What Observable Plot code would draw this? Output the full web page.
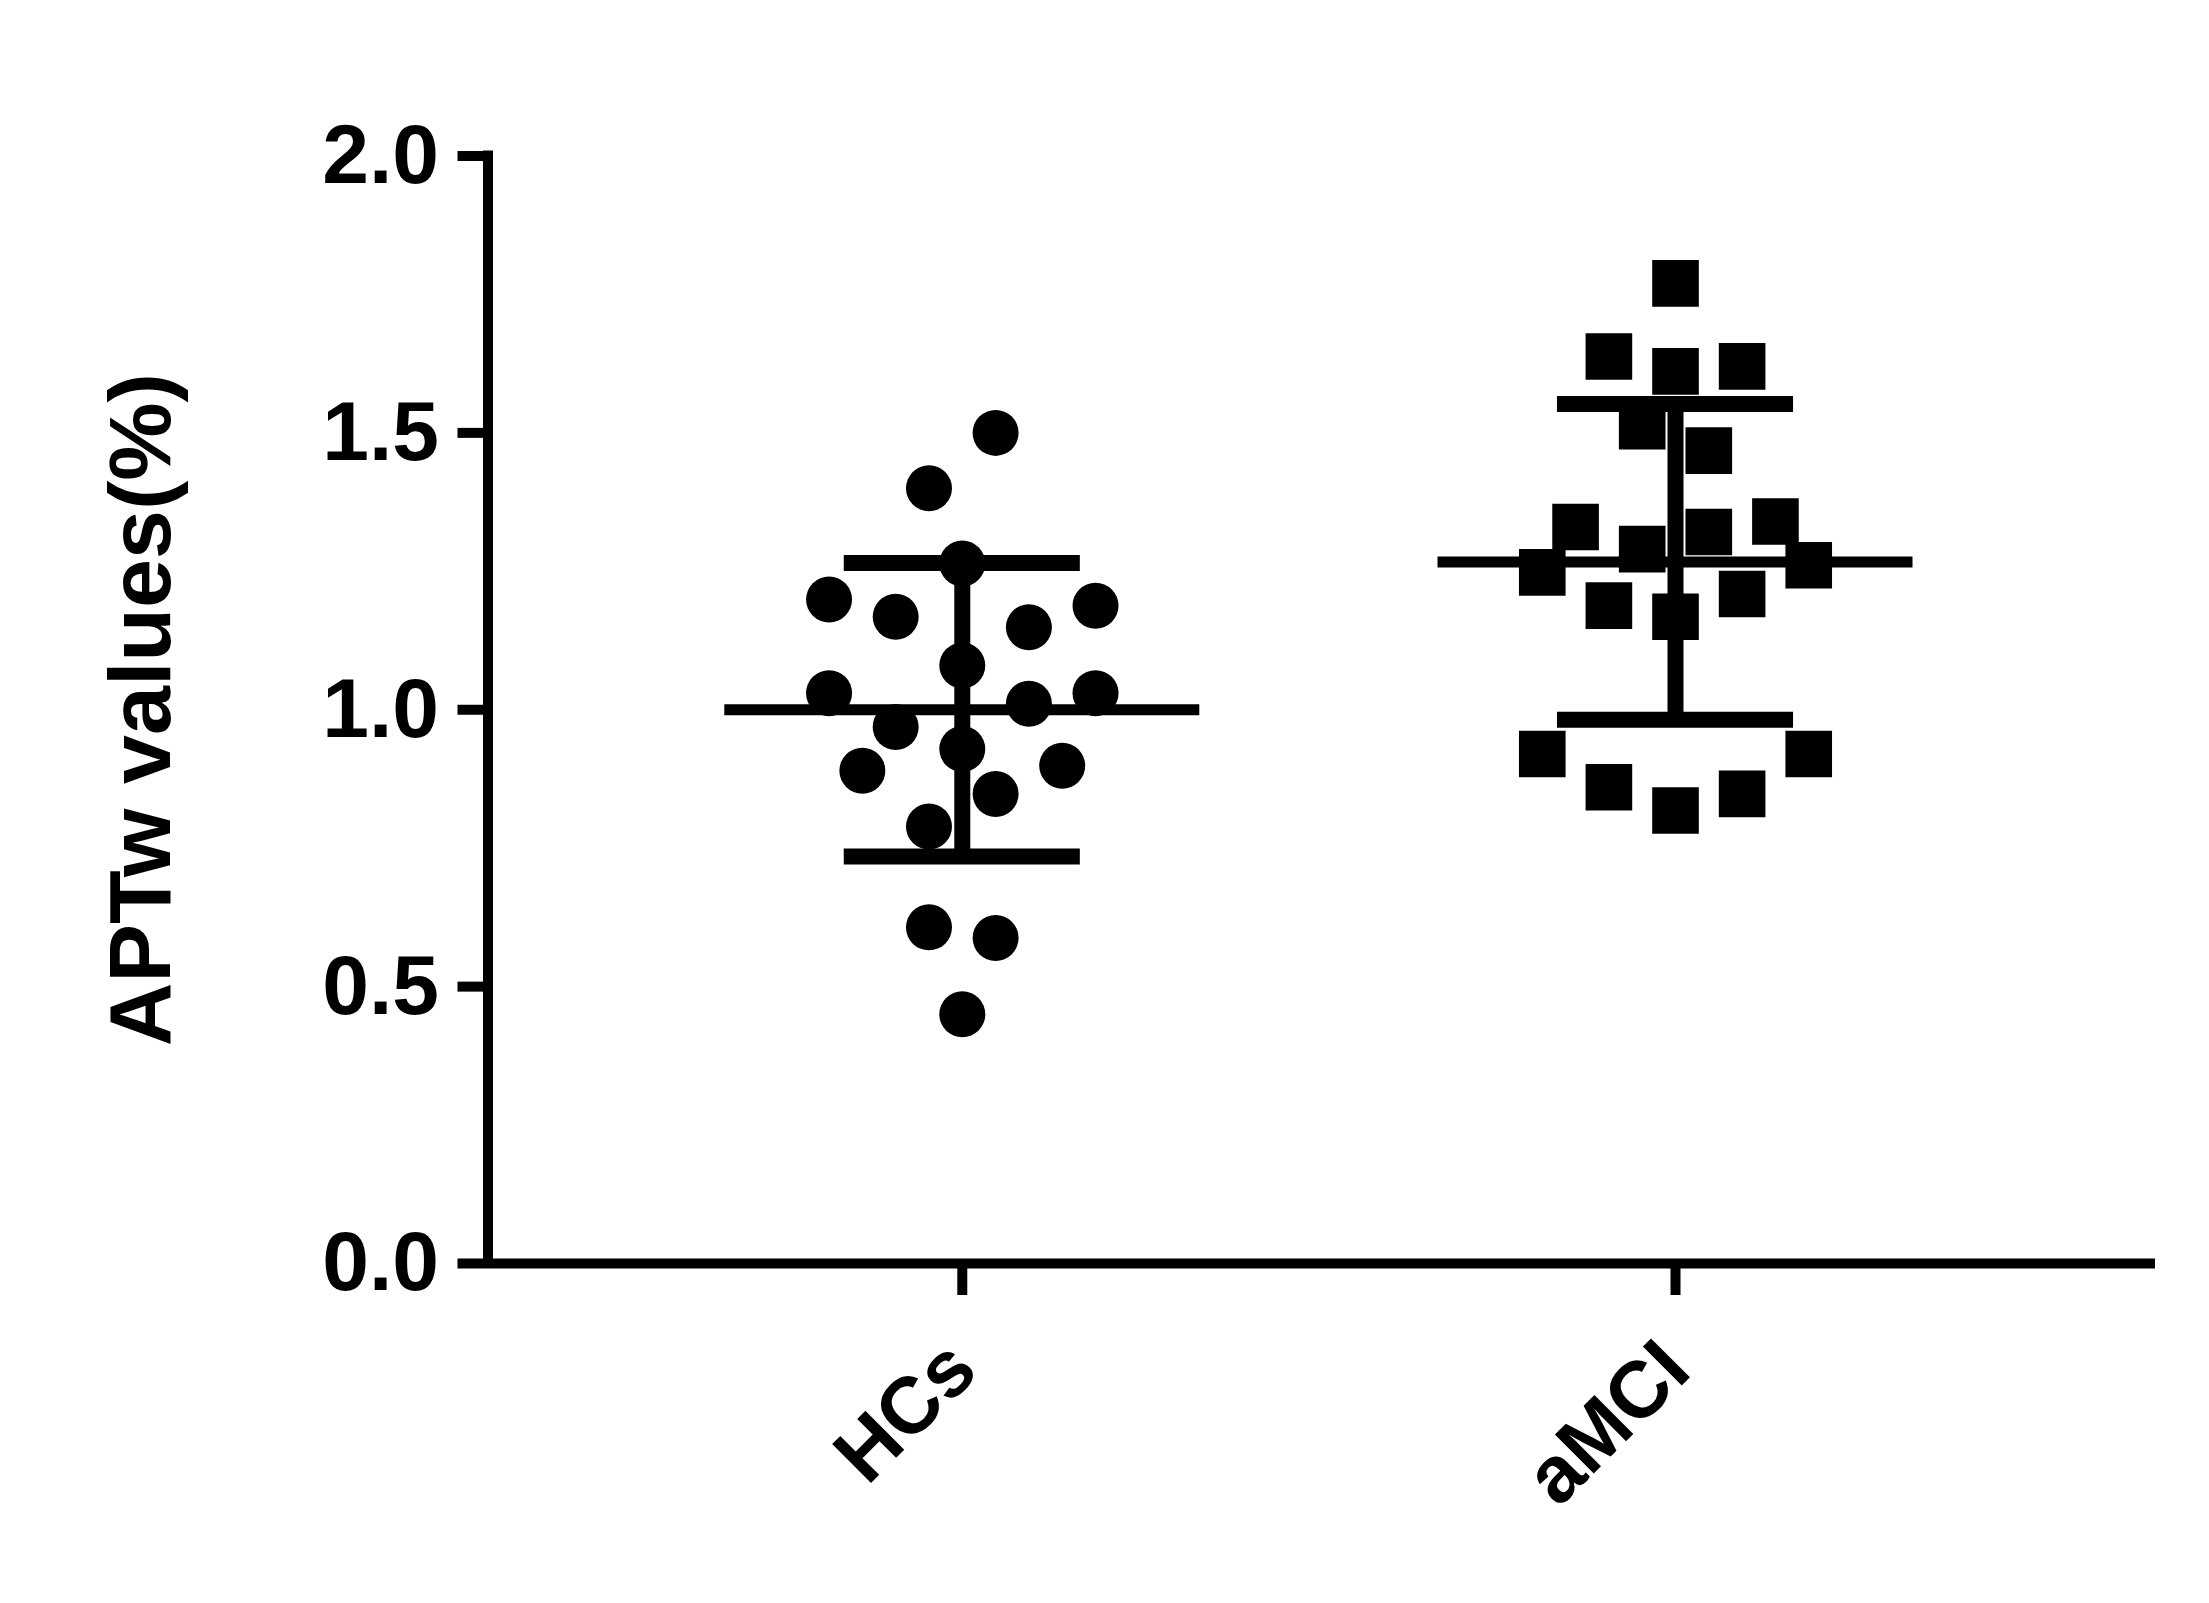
<!DOCTYPE html>
<html>
<head>
<meta charset="utf-8">
<script src="https://cdn.jsdelivr.net/npm/d3@7"></script>
<script src="https://cdn.jsdelivr.net/npm/@observablehq/plot@0.6"></script>
<style>
  html, body { margin: 0; padding: 0; background: #ffffff; }
  #chart svg { display: block; }
  #chart svg text { stroke: none !important; fill: #000000; }
</style>
</head>
<body>
<div id="chart"></div>
<script>
// ---- data ----
const groups = ["HCs", "aMCI"];

const hcValues = [1.50, 1.40, 1.264, 1.199, 1.168, 1.188, 1.149, 1.080, 1.030, 1.030,
                  1.011, 0.969, 0.929, 0.890, 0.899, 0.848, 0.789, 0.607, 0.588, 0.450];
const hcSlots  = [1, -1, 0, -4, -2, 4, 2, 0, -4, 4,
                  2, -2, 0, -3, 3, 1, -1, -1, 1, 0];

const amciValues = [1.770, 1.638, 1.611, 1.620, 1.512, 1.468, 1.330, 1.290, 1.321, 1.340,
                    1.248, 1.261, 1.188, 1.168, 1.209, 0.920, 0.860, 0.818, 0.848, 0.920];
const amciSlots  = [0, -2, 0, 2, -1, 1, -3, -1, 1, 3,
                    -4, 4, -2, 0, 2, -4, -2, 0, 2, 4];

const groupMeans = [1.000, 1.267];
const groupSDs   = [0.265, 0.285];

const yTicks = [0, 0.5, 1.0, 1.5, 2.0];
const yLabel = "APTw values(%)";

// ---- layout constants ----
const slotStep = 0.0467;      // horizontal spread of one scatter column (x units)
const meanHalf = 0.333;       // half width of mean line
const capHalf = 0.1655;       // half width of SD caps
const xDomain = [-0.665, 1.673];
const font = "'Liberation Sans', Arial, Helvetica, sans-serif";

const hcPoints = hcValues.map((v, k) => ({group: 0, value: v, slot: hcSlots[k]}));
const amciPoints = amciValues.map((v, k) => ({group: 1, value: v, slot: amciSlots[k]}));
const summary = groups.map((g, i) => ({i, name: g, mean: groupMeans[i], sd: groupSDs[i]}));

const chart = Plot.plot({
  width: 2209,
  height: 1603,
  marginLeft: 487.5,
  marginRight: 54,
  marginTop: 155.5,
  marginBottom: 340,
  style: {fontFamily: font, fontWeight: "bold", background: "#ffffff", color: "#000000"},
  x: {domain: xDomain, axis: null},
  y: {domain: [0, 2], axis: null},
  marks: [
    // axis lines
    Plot.ruleX([xDomain[0]], {y1: 0, y2: 2, stroke: "black", strokeWidth: 10, strokeLinecap: "square"}),
    Plot.ruleY([0], {x1: xDomain[0], x2: xDomain[1], stroke: "black", strokeWidth: 10}),
    // y axis ticks & labels
    Plot.axisY({
      anchor: "left", ticks: yTicks, tickSize: 30, tickPadding: 19,
      tickFormat: d => d.toFixed(1), fontSize: 84, fontWeight: "bold",
      stroke: "black", strokeWidth: 10, label: null
    }),
    // x axis ticks & labels
    Plot.axisX({
      anchor: "bottom", ticks: [0, 1], tickSize: 32, tickPadding: 60,
      tickFormat: i => groups[i], tickRotate: -45, fontSize: 80, fontWeight: "bold",
      stroke: "black", strokeWidth: 10, label: null
    }),
    // y title
    Plot.text([yLabel], {
      frameAnchor: "left", dx: -346, rotate: -90, text: d => d,
      fontSize: 88, fontWeight: "bold", fill: "black", textAnchor: "middle", lineAnchor: "middle"
    }),
    // points
    Plot.dot(hcPoints, {
      x: d => d.group + d.slot * slotStep, y: "value",
      r: 23, symbol: "circle", fill: "black", stroke: null
    }),
    Plot.dot(amciPoints, {
      x: d => d.group + d.slot * slotStep, y: "value",
      r: 26.3, symbol: "square", fill: "black", stroke: null
    }),
    // mean lines
    Plot.ruleY(summary, {
      y: "mean", x1: d => d.i - meanHalf, x2: d => d.i + meanHalf,
      stroke: "black", strokeWidth: 11
    }),
    // SD stems
    Plot.ruleX(summary, {
      x: "i", y1: d => d.mean - d.sd, y2: d => d.mean + d.sd,
      stroke: "black", strokeWidth: 16
    }),
    // SD caps
    Plot.ruleY(summary, {
      y: d => d.mean + d.sd, x1: d => d.i - capHalf, x2: d => d.i + capHalf,
      stroke: "black", strokeWidth: 16
    }),
    Plot.ruleY(summary, {
      y: d => d.mean - d.sd, x1: d => d.i - capHalf, x2: d => d.i + capHalf,
      stroke: "black", strokeWidth: 16
    })
  ]
});

document.getElementById("chart").appendChild(chart);
</script>
</body>
</html>
